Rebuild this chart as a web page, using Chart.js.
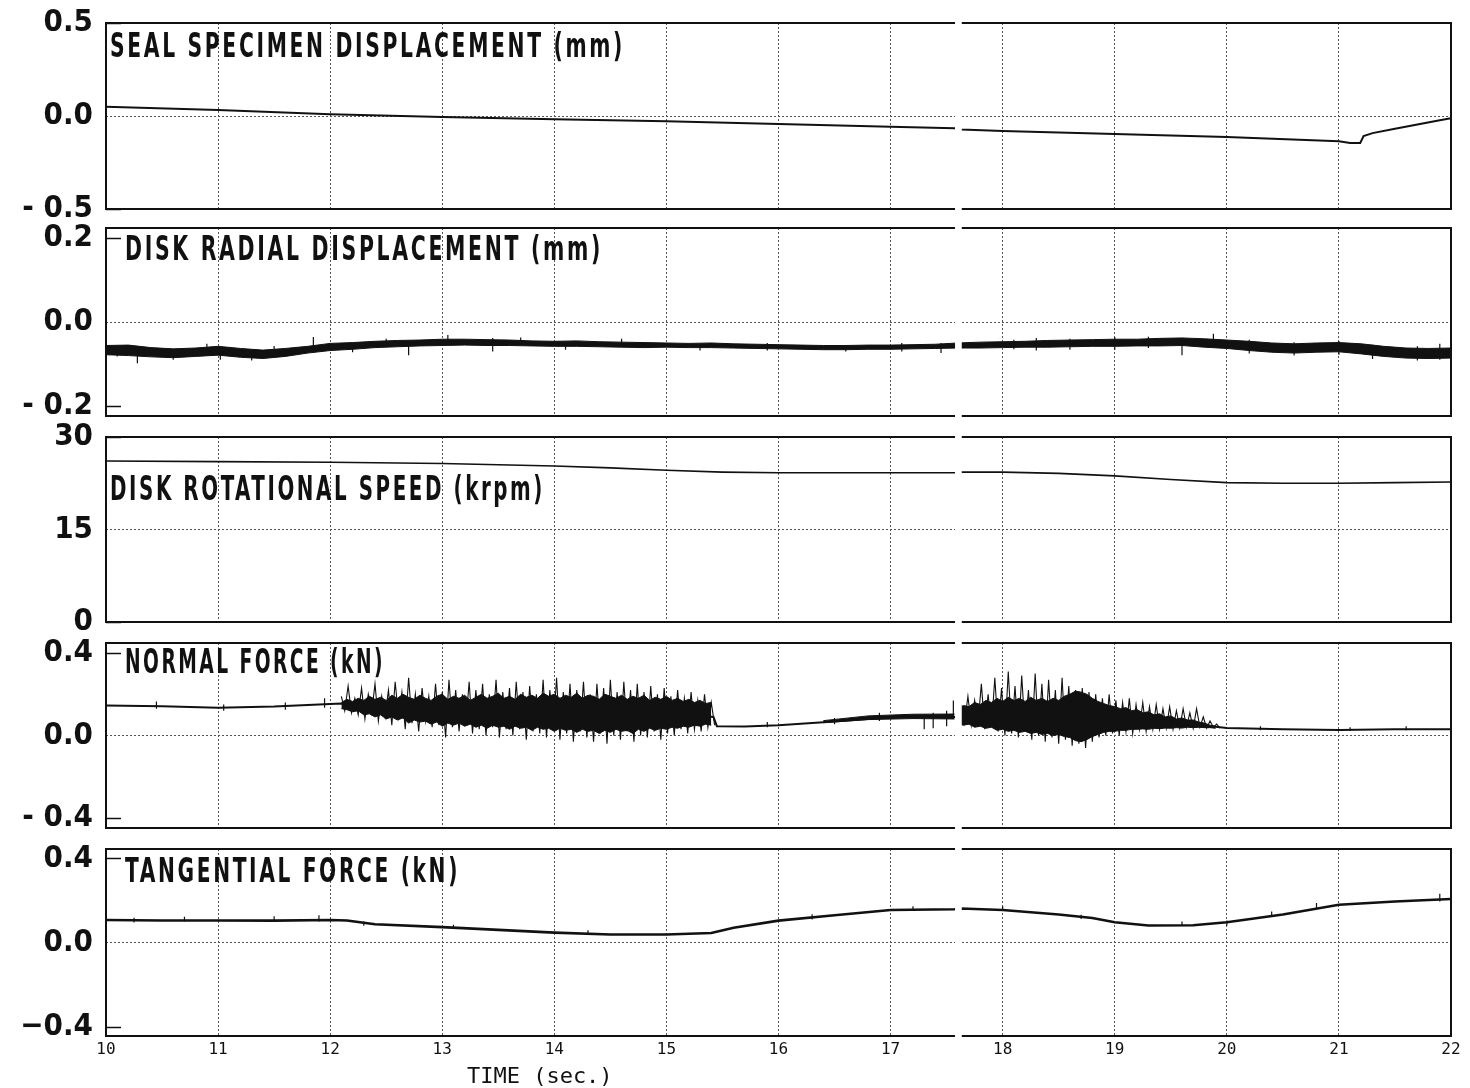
<!DOCTYPE html>
<html>
<head>
<meta charset="utf-8">
<title>Seal rub test record</title>
<script src="https://cdn.jsdelivr.net/npm/chart.js@4.4.1/dist/chart.umd.min.js"></script>
<style>
  html, body { margin: 0; padding: 0; background: #fff; }
  body { width: 1470px; height: 1088px; position: relative; overflow: hidden; }
  canvas { position: absolute; left: 0; }
</style>
</head>
<body>
<canvas id="seal"></canvas>
<canvas id="radial"></canvas>
<canvas id="speed"></canvas>
<canvas id="normal"></canvas>
<canvas id="tangential"></canvas>
<script>
// sample clock for the densely read stretches of the record
const clock = (start, step, n) => Array.from({ length: n }, (_, i) => +(start + i * step).toFixed(3));

// time axis (sec.)
const timeTicks = [10, 11, 12, 13, 14, 15, 16, 17, 18, 19, 20, 21, 22];
const paperCut = [17.575, 17.635];

// seal specimen displacement (mm)
const sealTicks = [-0.5, 0, 0.5];
const sealLabels = ['- 0.5', '0.0', '0.5'];
const sealTime = [10, 11, 12, 13, 14, 15, 16, 17, 17.57, 17.63, 18, 19, 20, 21, 21.1, 21.19, 21.22, 21.3, 21.5, 21.7, 21.9, 22];
const sealDisp = [0.05, 0.032, 0.01, -0.005, -0.017, -0.028, -0.043, -0.058, -0.066, -0.072, -0.08, -0.097, -0.113, -0.136, -0.145, -0.145, -0.108, -0.092, -0.069, -0.046, -0.023, -0.012];

// disk radial displacement (mm): upper and lower edge of the trace band
const radialTicks = [-0.2, 0, 0.2];
const radialLabels = ['- 0.2', '0.0', '0.2'];
const radialTime = clock(10, 0.2, 61);
const radialUpper = [
  -0.056, -0.055, -0.061, -0.064, -0.062, -0.058, -0.063, -0.067, -0.063, -0.058,
  -0.051, -0.049, -0.046, -0.044, -0.043, -0.041, -0.041, -0.042, -0.043, -0.045,
  -0.046, -0.045, -0.047, -0.048, -0.049, -0.050, -0.051, -0.050, -0.052, -0.053,
  -0.054, -0.055, -0.056, -0.056, -0.055, -0.055, -0.054, -0.053, -0.050, -0.048,
  -0.047, -0.046, -0.044, -0.043, -0.042, -0.041, -0.041, -0.039, -0.038, -0.040,
  -0.043, -0.046, -0.050, -0.052, -0.050, -0.049, -0.052, -0.058, -0.062, -0.063,
  -0.062
];
const radialLower = [
  -0.078, -0.080, -0.083, -0.085, -0.082, -0.079, -0.084, -0.087, -0.082, -0.074,
  -0.068, -0.065, -0.061, -0.059, -0.057, -0.056, -0.055, -0.056, -0.056, -0.057,
  -0.058, -0.058, -0.059, -0.060, -0.061, -0.060, -0.061, -0.061, -0.062, -0.063,
  -0.064, -0.065, -0.066, -0.066, -0.065, -0.065, -0.064, -0.063, -0.062, -0.062,
  -0.061, -0.060, -0.060, -0.059, -0.058, -0.058, -0.057, -0.057, -0.056, -0.060,
  -0.063, -0.068, -0.072, -0.074, -0.072, -0.071, -0.076, -0.082, -0.086, -0.087,
  -0.086
];
const radialSpikeTime = [
  10.1, 10.28, 10.6, 10.9, 11.02, 11.3, 11.5, 11.85, 12.2, 12.5, 12.7, 13.05,
  13.45, 13.7, 14.1, 14.6, 15.3, 15.9, 16.6, 17.1, 17.45, 18.1, 18.3, 18.6,
  19.0, 19.3, 19.6, 19.88, 20.2, 20.6, 21.0, 21.3, 21.7, 21.9
];
const radialSpikeLow = [
  -0.082, -0.098, -0.09, -0.07, -0.09, -0.092, -0.075, -0.06, -0.072, -0.058, -0.079, -0.05,
  -0.07, -0.055, -0.066, -0.053, -0.068, -0.068, -0.07, -0.07, -0.074, -0.065, -0.068, -0.066,
  -0.066, -0.062, -0.079, -0.05, -0.075, -0.08, -0.078, -0.088, -0.092, -0.09
];
const radialSpikeHigh = [
  -0.062, -0.06, -0.07, -0.052, -0.06, -0.075, -0.057, -0.036, -0.052, -0.04, -0.05, -0.031,
  -0.038, -0.037, -0.05, -0.04, -0.052, -0.05, -0.055, -0.05, -0.05, -0.042, -0.038, -0.04,
  -0.036, -0.035, -0.04, -0.028, -0.042, -0.048, -0.045, -0.054, -0.058, -0.052
];

// disk rotational speed (krpm)
const speedTicks = [0, 15, 30];
const speedLabels = ['0', '15', '30'];
const speedTime = [10, 11, 12, 13, 14, 14.5, 15, 15.5, 16, 17, 17.57, 17.63, 18, 18.5, 19, 19.5, 20, 20.5, 21, 21.5, 22];
const speedKrpm = [26.1, 26.0, 25.9, 25.7, 25.3, 25.0, 24.6, 24.3, 24.2, 24.2, 24.2, 24.3, 24.3, 24.1, 23.7, 23.1, 22.6, 22.5, 22.5, 22.6, 22.7];

// normal force (kN)
const normalTicks = [-0.4, 0, 0.4];
const normalLabels = ['- 0.4', '0.0', '0.4'];
const normalTime = [10, 10.5, 11, 11.5, 12, 12.1, 13, 14, 15, 15.42, 15.45, 15.7, 16, 16.5, 17, 17.3, 17.57, 17.63, 18.5, 19.5, 19.9, 20, 20.5, 21, 21.5, 22];
const normalForce = [0.145, 0.142, 0.135, 0.14, 0.152, 0.155, 0.12, 0.11, 0.11, 0.09, 0.045, 0.043, 0.05, 0.068, 0.088, 0.092, 0.09, 0.09, 0.08, 0.05, 0.042, 0.036, 0.03, 0.027, 0.03, 0.03];
// chatter bursts, read as alternating peak / trough
const burstATime = clock(12.1, 0.03, 112);
const burstA = [
  0.19, 0.12, 0.24, 0.11, 0.18, 0.10, 0.23, 0.08, 0.20, 0.11,
  0.25, 0.07, 0.19, 0.09, 0.22, 0.05, 0.26, 0.09, 0.21, 0.03,
  0.28, 0.06, 0.20, 0.02, 0.23, 0.07, 0.19, 0.04, 0.25, 0.05,
  0.21, -0.01, 0.27, 0.04, 0.22, 0.02, 0.20, 0.05, 0.26, 0.01,
  0.22, 0.03, 0.25, 0.00, 0.20, 0.04, 0.27, -0.01, 0.21, 0.03,
  0.23, 0.00, 0.26, 0.03, 0.21, -0.02, 0.24, 0.02, 0.20, 0.01,
  0.27, -0.01, 0.22, 0.03, 0.28, -0.02, 0.21, 0.01, 0.25, -0.03,
  0.22, 0.02, 0.26, -0.01, 0.20, -0.03, 0.25, 0.01, 0.23, -0.04,
  0.27, 0.00, 0.21, -0.02, 0.26, 0.02, 0.22, -0.03, 0.25, 0.00,
  0.21, -0.01, 0.24, 0.02, 0.20, -0.02, 0.23, 0.01, 0.19, 0.00,
  0.22, 0.03, 0.18, 0.01, 0.21, 0.03, 0.17, 0.02, 0.20, 0.04,
  0.16, 0.05
];
const burstBTime = clock(17.63, 0.03, 78);
const burstB = [
  0.15, 0.06, 0.19, 0.05, 0.17, 0.06, 0.25, 0.03, 0.20, 0.04,
  0.28, 0.02, 0.23, 0.00, 0.31, 0.01, 0.24, -0.01, 0.29, 0.02,
  0.22, -0.02, 0.30, 0.00, 0.25, -0.03, 0.27, -0.01, 0.22, -0.04,
  0.28, -0.02, 0.24, -0.05, 0.22, -0.04, 0.23, -0.06, 0.21, -0.03,
  0.20, -0.01, 0.18, 0.00, 0.20, 0.01, 0.17, 0.00, 0.16, 0.02,
  0.18, 0.01, 0.15, 0.03, 0.16, 0.02, 0.14, 0.03, 0.15, 0.03,
  0.13, 0.035, 0.14, 0.03, 0.12, 0.035, 0.13, 0.04, 0.11, 0.035,
  0.13, 0.04, 0.09, 0.035, 0.07, 0.04, 0.055, 0.035
];
// dense core of each burst
const coreATime = clock(12.1, 0.05, 67);
const coreAUpper = [
  0.16, 0.175, 0.165, 0.18, 0.17, 0.19, 0.175, 0.185, 0.17, 0.195,
  0.18, 0.2, 0.185, 0.175, 0.195, 0.18, 0.17, 0.19, 0.2, 0.175,
  0.19, 0.18, 0.195, 0.17, 0.185, 0.2, 0.18, 0.19, 0.205, 0.18,
  0.19, 0.175, 0.2, 0.185, 0.195, 0.18, 0.205, 0.19, 0.2, 0.18,
  0.195, 0.185, 0.205, 0.18, 0.195, 0.19, 0.175, 0.2, 0.19, 0.18,
  0.195, 0.175, 0.19, 0.18, 0.195, 0.17, 0.185, 0.175, 0.19, 0.17,
  0.18, 0.165, 0.175, 0.16, 0.17, 0.155, 0.16
];
const coreALower = [
  0.13, 0.125, 0.115, 0.12, 0.1, 0.105, 0.09, 0.1, 0.08, 0.09,
  0.075, 0.085, 0.06, 0.075, 0.065, 0.07, 0.055, 0.065, 0.045, 0.06,
  0.05, 0.06, 0.045, 0.055, 0.04, 0.05, 0.035, 0.05, 0.04, 0.045,
  0.03, 0.045, 0.035, 0.04, 0.025, 0.04, 0.03, 0.035, 0.02, 0.035,
  0.025, 0.03, 0.015, 0.03, 0.02, 0.025, 0.01, 0.025, 0.015, 0.03,
  0.02, 0.025, 0.01, 0.03, 0.02, 0.035, 0.025, 0.035, 0.03, 0.04,
  0.035, 0.045, 0.04, 0.05, 0.045, 0.055, 0.05
];
const coreBTime = clock(17.6, 0.05, 47);
const coreBUpper = [
  0.13, 0.145, 0.14, 0.16, 0.15, 0.17, 0.16, 0.18, 0.165, 0.185,
  0.17, 0.18, 0.165, 0.185, 0.17, 0.18, 0.165, 0.18, 0.17, 0.19,
  0.2, 0.215, 0.21, 0.2, 0.18, 0.165, 0.155, 0.145, 0.14, 0.13,
  0.135, 0.12, 0.125, 0.11, 0.115, 0.1, 0.105, 0.09, 0.095, 0.08,
  0.085, 0.075, 0.075, 0.065, 0.06, 0.05, 0.045
];
const coreBLower = [
  0.055, 0.05, 0.055, 0.04, 0.045, 0.035, 0.04, 0.025, 0.03, 0.02,
  0.025, 0.015, 0.02, 0.01, 0.015, 0.005, 0.01, 0.0, 0.005, -0.005,
  -0.01, -0.025, -0.03, -0.02, -0.005, 0.005, 0.015, 0.02, 0.02, 0.025,
  0.025, 0.03, 0.03, 0.032, 0.03, 0.035, 0.033, 0.036, 0.035, 0.038,
  0.036, 0.04, 0.038, 0.04, 0.038, 0.038, 0.035
];
const coreCTime = [16.4, 16.8, 17.2, 17.57];
const coreCUpper = [0.072, 0.095, 0.103, 0.104];
const coreCLower = [0.062, 0.077, 0.082, 0.08];
const normalSpikeTime = [10.45, 11.05, 11.6, 11.95, 15.9, 16.5, 16.9, 17.3, 17.38, 17.5, 17.56, 20.3, 21.1, 21.6];
const normalSpikeLow = [0.13, 0.12, 0.125, 0.135, 0.04, 0.055, 0.07, 0.03, 0.035, 0.045, 0.08, 0.025, 0.022, 0.025];
const normalSpikeHigh = [0.165, 0.15, 0.16, 0.18, 0.065, 0.085, 0.11, 0.1, 0.11, 0.12, 0.17, 0.045, 0.04, 0.045];

// tangential force (kN)
const tangTicks = [-0.4, 0, 0.4];
const tangLabels = ['\u22120.4', '0.0', '0.4'];
const tangTime = [10, 10.5, 11, 11.5, 12, 12.15, 12.4, 13, 13.5, 14, 14.5, 15, 15.4, 15.6, 16, 16.5, 17, 17.57, 17.63, 18, 18.5, 18.8, 19, 19.3, 19.7, 20, 20.5, 21, 21.5, 22];
const tangForce = [0.107, 0.105, 0.105, 0.104, 0.107, 0.105, 0.087, 0.073, 0.06, 0.047, 0.038, 0.038, 0.045, 0.07, 0.104, 0.13, 0.155, 0.158, 0.162, 0.155, 0.133, 0.117, 0.096, 0.081, 0.082, 0.096, 0.133, 0.18, 0.195, 0.207];
const tangSpikeTime = [10.25, 10.7, 11.5, 11.9, 12.3, 13.1, 14.3, 16.3, 17.2, 18.0, 18.7, 19.6, 20.0, 20.4, 20.8, 21.9];
const tangSpikeLow = [0.095, 0.1, 0.1, 0.1, 0.08, 0.065, 0.04, 0.11, 0.15, 0.15, 0.112, 0.078, 0.08, 0.125, 0.16, 0.195];
const tangSpikeHigh = [0.118, 0.122, 0.125, 0.13, 0.1, 0.085, 0.058, 0.135, 0.172, 0.172, 0.132, 0.1, 0.105, 0.148, 0.188, 0.232];

const panelTitles = [
  'SEAL SPECIMEN DISPLACEMENT (mm)',
  'DISK RADIAL DISPLACEMENT (mm)',
  'DISK ROTATIONAL SPEED (krpm)',
  'NORMAL FORCE (kN)',
  'TANGENTIAL FORCE (kN)'
];
const axisTitle = 'TIME (sec.)';

// ---- drawing helpers ----
const INK = '#111';
const GRID = '#555';
const PLOT_LEFT = 106, PLOT_RIGHT = 1451, PAD = 18, PAGE_H = 1088;
const BOLD_FONT = "'DejaVu Sans Condensed', Roboto, 'Liberation Sans', sans-serif";
const MONO_FONT = "'DejaVu Sans Mono', 'Liberation Mono', monospace";

const pts = (t, v) => t.map((x, i) => ({ x, y: v[i] }));

function trace(t, v, width) {
  return { data: pts(t, v), borderColor: INK, borderWidth: width, pointRadius: 0, fill: false };
}

// two edge lines with the space between them inked in
function band(t, upper, lower) {
  return [
    { data: pts(t, upper), borderColor: INK, borderWidth: 1, pointRadius: 0, fill: false },
    { data: pts(t, lower), borderColor: INK, borderWidth: 1, pointRadius: 0, fill: '-1', backgroundColor: INK }
  ];
}

// short vertical strokes, broken apart with nulls
function spikes(t, lo, hi) {
  const data = [];
  t.forEach((x, i) => { data.push({ x, y: lo[i] }, { x, y: hi[i] }, { x, y: null }); });
  return { data, borderColor: INK, borderWidth: 1.2, pointRadius: 0, fill: false, spanGaps: false };
}

const panels = [
  { id: 'seal', top: 23, bottom: 209, min: -0.5, max: 0.5, centre: 0, ticks: sealTicks, labels: sealLabels,
    title: panelTitles[0], titleAt: [4, 34, 515],
    datasets: [trace(sealTime, sealDisp, 2)] },
  { id: 'radial', top: 228, bottom: 416, min: -0.224, max: 0.224, centre: 0, ticks: radialTicks, labels: radialLabels,
    title: panelTitles[1], titleAt: [19, 32, 478],
    datasets: [...band(radialTime, radialUpper, radialLower), spikes(radialSpikeTime, radialSpikeLow, radialSpikeHigh)] },
  { id: 'speed', top: 437, bottom: 622, min: 0, max: 30, centre: 15, ticks: speedTicks, labels: speedLabels,
    title: panelTitles[2], titleAt: [4, 63, 435],
    datasets: [trace(speedTime, speedKrpm, 1.6)] },
  { id: 'normal', top: 643, bottom: 828, min: -0.448, max: 0.448, centre: 0, ticks: normalTicks, labels: normalLabels,
    title: panelTitles[3], titleAt: [19, 30, 260],
    datasets: [
      ...band(coreATime, coreAUpper, coreALower),
      ...band(coreBTime, coreBUpper, coreBLower),
      ...band(coreCTime, coreCUpper, coreCLower),
      trace(burstATime, burstA, 1.1),
      trace(burstBTime, burstB, 1.1),
      spikes(normalSpikeTime, normalSpikeLow, normalSpikeHigh),
      trace(normalTime, normalForce, 2)
    ] },
  { id: 'tangential', top: 849, bottom: 1036, min: -0.445, max: 0.445, centre: 0, ticks: tangTicks, labels: tangLabels,
    title: panelTitles[4], titleAt: [19, 33, 335],
    datasets: [trace(tangTime, tangForce, 2.6), spikes(tangSpikeTime, tangSpikeLow, tangSpikeHigh)] }
];

// frame, inner tick marks, paper splice and the panel caption
function recorder(p, last) {
  return {
    id: 'recorder',
    afterDraw(chart) {
      const { ctx, chartArea: a, scales: { x, y } } = chart;
      ctx.save();
      ctx.strokeStyle = INK;
      ctx.lineWidth = 2;
      ctx.strokeRect(a.left, a.top, a.right - a.left, a.bottom - a.top);

      ctx.lineWidth = 1.5;
      p.ticks.filter(v => v !== p.centre).forEach(v => {
        const py = Math.round(y.getPixelForValue(v)) + 0.5;
        ctx.beginPath();
        ctx.moveTo(a.left, py);
        ctx.lineTo(a.left + 15, py);
        ctx.stroke();
      });

      const g0 = x.getPixelForValue(paperCut[0]);
      const g1 = x.getPixelForValue(paperCut[1]);
      ctx.fillStyle = '#fff';
      ctx.fillRect(g0, 0, g1 - g0, chart.height);

      const [dx, dy, w] = p.titleAt;
      ctx.fillStyle = INK;
      ctx.font = `bold 34px ${BOLD_FONT}`;
      ctx.letterSpacing = '4px';
      ctx.textBaseline = 'alphabetic';
      const natural = ctx.measureText(p.title).width;
      ctx.translate(a.left + dx, a.top + dy);
      ctx.scale(w / natural, 1);
      ctx.fillText(p.title, 0, 0);
      ctx.setTransform(1, 0, 0, 1, 0, 0);

      if (last) {
        ctx.letterSpacing = '0px';
        ctx.font = `22px ${MONO_FONT}`;
        ctx.textAlign = 'center';
        ctx.fillText(axisTitle, x.getPixelForValue(13.87), a.bottom + 47);
      }
      ctx.restore();
    }
  };
}

function makePanel(p, last) {
  const canvas = document.getElementById(p.id);
  const padBottom = last ? PAGE_H - p.bottom : PAD;
  canvas.width = 1470;
  canvas.height = p.bottom - p.top + PAD + padBottom;
  canvas.style.top = (p.top - PAD) + 'px';

  return new Chart(canvas, {
    type: 'line',
    data: { datasets: p.datasets },
    options: {
      responsive: false,
      animation: false,
      events: [],
      layout: { padding: { top: PAD, right: 1470 - PLOT_RIGHT, left: 0, bottom: 0 } },
      elements: { line: { tension: 0 }, point: { radius: 0 } },
      plugins: { legend: { display: false }, tooltip: { enabled: false } },
      scales: {
        x: {
          type: 'linear', min: 10, max: 22,
          afterBuildTicks: s => { s.ticks = timeTicks.map(v => ({ value: v })); },
          afterFit: s => { s.height = padBottom; s.paddingLeft = 0; s.paddingRight = 0; },
          grid: {
            color: c => (c.tick && c.tick.value > 10 && c.tick.value < 22) ? GRID : 'transparent',
            lineWidth: 1, drawTicks: false
          },
          border: { display: false, dash: [2, 2] },
          ticks: {
            display: last, autoSkip: false, maxRotation: 0, padding: 4, color: INK,
            font: { family: MONO_FONT, size: 16 }
          }
        },
        y: {
          min: p.min, max: p.max,
          afterBuildTicks: s => { s.ticks = p.ticks.map(v => ({ value: v })); },
          afterFit: s => { s.width = PLOT_LEFT; s.paddingTop = 0; s.paddingBottom = 0; },
          grid: {
            color: c => (c.tick && c.tick.value === p.centre) ? GRID : 'transparent',
            lineWidth: 1, drawTicks: false
          },
          border: { display: false, dash: [2, 2] },
          ticks: {
            autoSkip: false, padding: 13, color: INK,
            callback: (v, i) => p.labels[i],
            font: { family: BOLD_FONT, size: 31, weight: 'bold' }
          }
        }
      }
    },
    plugins: [recorder(p, last)]
  });
}

panels.forEach((p, i) => makePanel(p, i === panels.length - 1));
</script>
</body>
</html>
